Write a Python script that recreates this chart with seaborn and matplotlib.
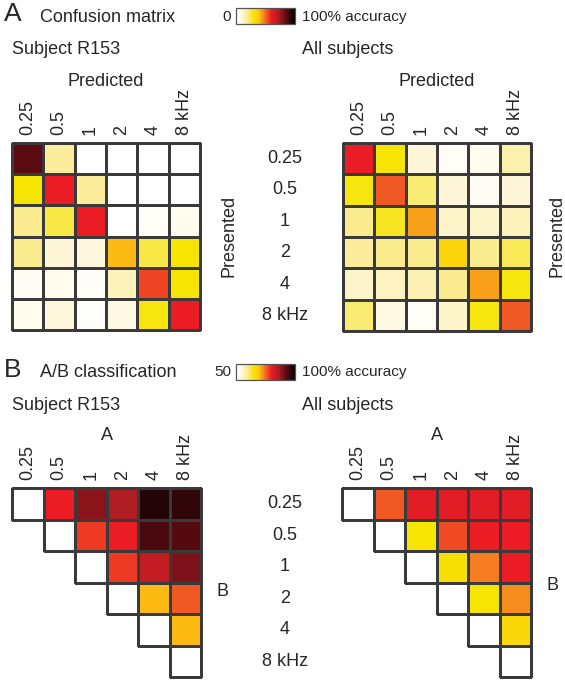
import numpy as np
import matplotlib
matplotlib.use("Agg")
import matplotlib.pyplot as plt
import seaborn as sns
from matplotlib.colors import LinearSegmentedColormap, Normalize, to_rgba
from matplotlib.cm import ScalarMappable

sns.set_style("white")
plt.rcParams["font.family"] = ["Liberation Sans", "DejaVu Sans"]

# ---- data ----
freqs = ["0.25", "0.5", "1", "2", "4", "8 kHz"]

# confusion matrices, % accuracy (rows presented, cols predicted)
conf_r153 = [[85, 18, 0, 0, 0, 0],
             [30, 60, 18, 0, 0, 0],
             [20, 25, 60, 0, 4, 6],
             [20, 10, 9, 40, 25, 30],
             [5, 6, 3, 14, 55, 30],
             [6, 9, 3, 8, 29, 60]]
conf_all = [[60, 30, 10, 4, 6, 16],
            [29, 52, 22, 10, 5, 10],
            [20, 28, 43, 12, 12, 14],
            [18, 20, 20, 35, 20, 24],
            [12, 13, 15, 20, 43, 29],
            [22, 8, 4, 12, 29, 52]]

# A/B classification, upper triangle per row (B row, A col > row)
ab_r153 = [[80, 89, 86, 97, 96],
           [78, 80, 94, 93],
           [78, 84, 90],
           [70, 76],
           [70]]
ab_all = [[76, 81, 81, 81, 81],
          [65, 77, 80, 80],
          [66, 74, 80],
          [65, 73],
          [67]]

cmap = LinearSegmentedColormap.from_list("acc", [
    (0.0, "#ffffff"), (0.05, "#fffdf2"), (0.1, "#fef6d6"), (0.2, "#faeb8e"),
    (0.3, "#f6e500"), (0.38, "#fec90f"), (0.45, "#f7941d"), (0.52, "#f15a24"),
    (0.6, "#ec1c24"), (0.72, "#b01c21"), (0.85, "#5e0b12"), (1.0, "#000000")])

W, H = 565, 680
fig = plt.figure(figsize=(W / 100, H / 100), dpi=100)
EDGE = "#3a3a3a"


def box(x0, y0, x1, y1):
    return [x0 / W, 1 - y1 / H, (x1 - x0) / W, (y1 - y0) / H]


def tri(rows):
    n = len(freqs)
    m = np.full((n, n), np.nan)
    for i in range(n):
        m[i, i] = 50
        m[i, i + 1:] = rows[i] if i < len(rows) else []
    return m


def draw(ax, data, vmin, vmax, mask=None, xlabel="", label_y=1.3):
    data = np.array(data, float)
    sns.heatmap(data, ax=ax, mask=mask, cmap=cmap,
                vmin=vmin, vmax=vmax, cbar=False, square=False,
                linewidths=0.9, linecolor=EDGE)
    mesh = ax.collections[0]
    mesh.set_clip_on(False)
    if mask is not None:
        ec = np.array([to_rgba(EDGE)] * data.size)
        ec[mask.ravel()] = (0, 0, 0, 0)
        mesh.set_edgecolor(ec)
    ax.xaxis.tick_top()
    ax.set_xticklabels(freqs, rotation=90, fontsize=13)
    ax.tick_params(axis="x", length=0, pad=5.5)
    ax.set_yticks([])
    ax.xaxis.set_label_position("top")
    ax.set_xlabel(xlabel, fontsize=13)
    ax.xaxis.label.set_va("center")
    ax.xaxis.set_label_coords(0.5, label_y)
    for s in ax.spines.values():
        s.set_visible(False)


def colorbar(x0, y0, vmin, vmax):
    cax = fig.add_axes(box(x0, y0, x0 + 59, y0 + 16))
    cb = fig.colorbar(ScalarMappable(Normalize(vmin, vmax), cmap), cax=cax,
                      orientation="horizontal")
    step = (vmax - vmin) / 5
    cb.set_ticks([vmin + step * k for k in range(1, 5)])
    cax.xaxis.set_ticks_position("bottom")
    cax.tick_params(direction="in", length=3, width=0.8, labelbottom=False,
                    color="#222222")
    cb.outline.set_edgecolor("#555555")
    cb.outline.set_linewidth(0.9)


def side_label(ax, text, x_px, y_px, left, top, size, rot):
    ax.yaxis.set_label_position("right")
    ax.set_ylabel(text, fontsize=13, rotation=rot)
    ax.yaxis.label.set_va("center")
    ax.yaxis.label.set_ha("center")
    ax.yaxis.label.set_rotation_mode("default")
    ax.yaxis.set_label_coords((x_px - left) / size, 1 - (y_px - top) / size)


# ---- panel A ----
axA1 = fig.add_axes(box(12, 143, 200, 330))
draw(axA1, conf_r153, 0, 100, xlabel="Predicted", label_y=1 + 61 / 187)
side_label(axA1, "Presented", 228, 236, 12, 143, 187, 90)

axA2 = fig.add_axes(box(343, 143, 531, 331))
draw(axA2, conf_all, 0, 100, xlabel="Predicted", label_y=1 + 61 / 187)
axA2.set_yticks(np.arange(6) + 0.5)
axA2.set_yticklabels(freqs, rotation=0, fontsize=13, ha="center")
axA2.tick_params(axis="y", length=0, pad=(343 - 285) * 0.72)
side_label(axA2, "Presented", 557, 236, 343, 143, 188, 90)

# ---- panel B ----
mask = np.tril(np.ones((6, 6), bool), k=-1)
axB1 = fig.add_axes(box(12, 488, 201, 677))
draw(axB1, tri(ab_r153), 50, 100, mask=mask, xlabel="A",
     label_y=1 + 52 / 189)
side_label(axB1, "B", 222, 592, 12, 488, 189, 0)

axB2 = fig.add_axes(box(342, 488, 531, 677))
draw(axB2, tri(ab_all), 50, 100, mask=mask, xlabel="A",
     label_y=1 + 52 / 189)
axB2.set_yticks(np.arange(6) + 0.5)
axB2.set_yticklabels(freqs, rotation=0, fontsize=13, ha="center")
axB2.tick_params(axis="y", length=0, pad=(342 - 285) * 0.72)
side_label(axB2, "B", 552, 586, 342, 488, 189, 0)

# ---- headers ----
def t(x, y, s, size=13, **kw):
    fig.text(x / W, 1 - y / H, s, fontsize=size, va="center", **kw)

t(4, 14, "A", size=19)
t(40, 17, "Confusion matrix")
t(231, 17, "0", size=11, ha="right")
t(302, 17, "100% accuracy", size=11)
colorbar(236, 8, 0, 100)
t(12, 50, "Subject R153")
t(302, 50, "All subjects")

t(4, 370, "B", size=19)
t(40, 372, "A/B classification")
t(231, 372, "50", size=11, ha="right")
t(302, 372, "100% accuracy", size=11)
colorbar(236, 364, 50, 100)
t(12, 405, "Subject R153")
t(302, 405, "All subjects")

fig.savefig("out.png", dpi=100)
